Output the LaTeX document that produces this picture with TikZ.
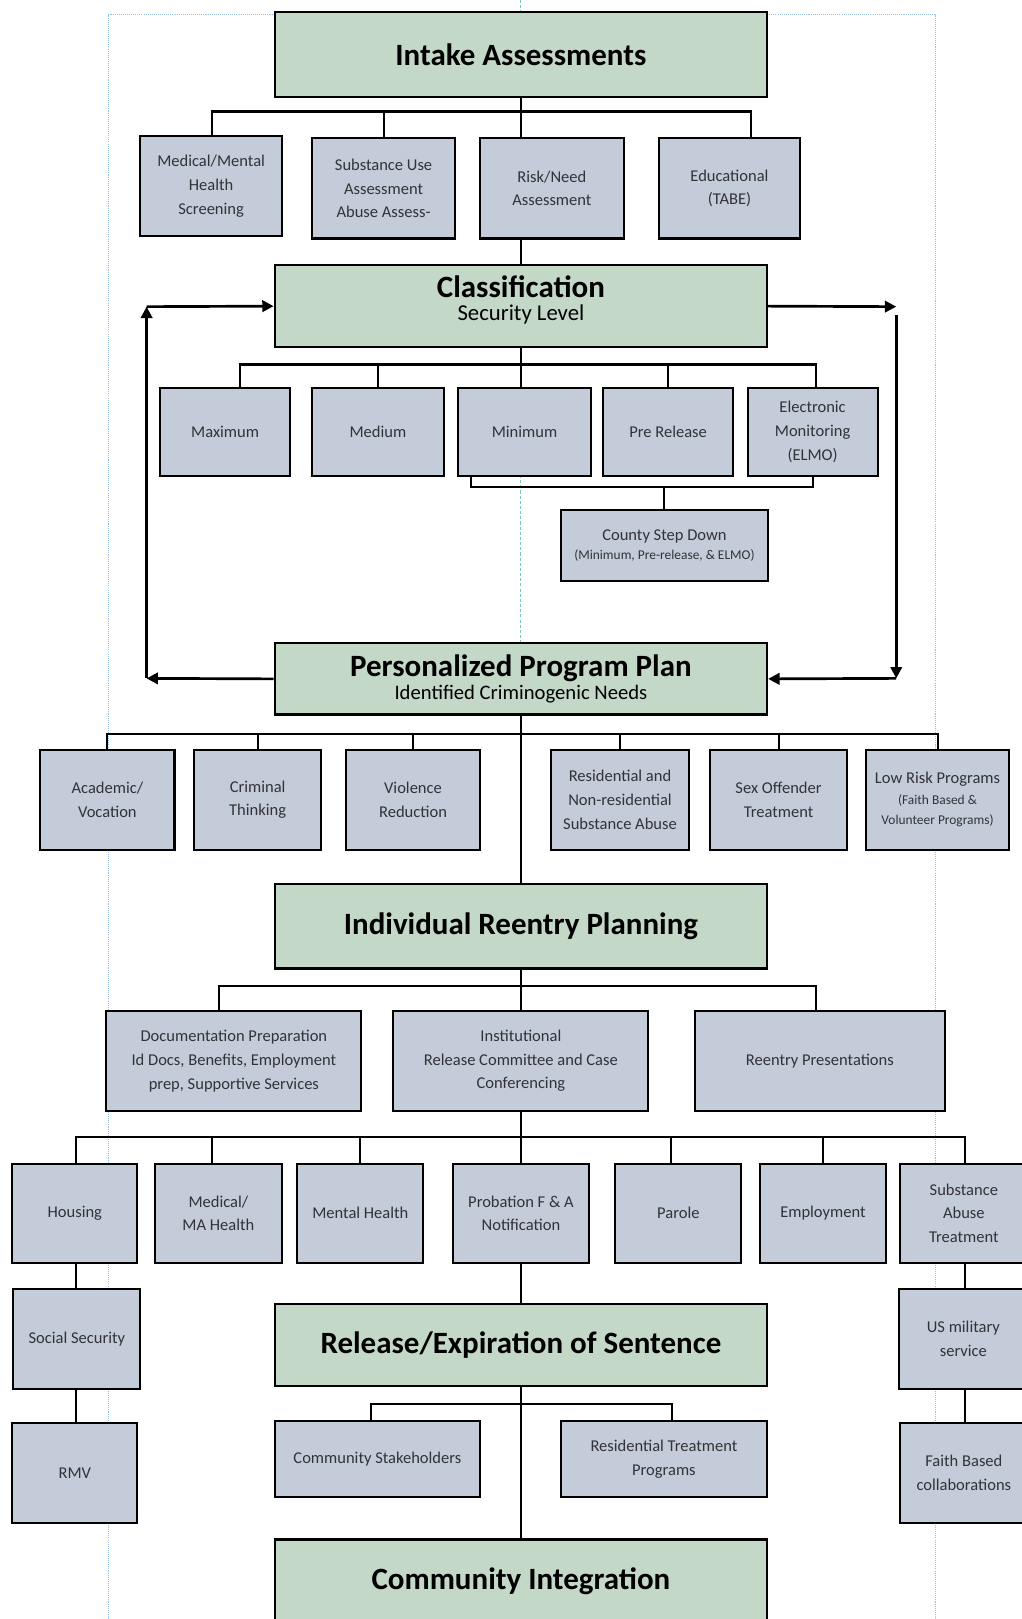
\documentclass[tikz,border=0pt]{standalone}
\usepackage{fontspec}
\setmainfont{Carlito}
\usetikzlibrary{arrows.meta,backgrounds}
\definecolor{gfill}{RGB}{196,216,200}
\definecolor{bfill}{RGB}{196,204,218}
\definecolor{guide}{RGB}{150,190,230}
\definecolor{guidec}{RGB}{120,200,190}
\definecolor{btext}{RGB}{50,50,55}
\begin{document}
\begin{tikzpicture}[x=1pt,y=-1pt,
  box/.style={draw=black, line width=2pt, inner sep=2pt, align=center},
  gbox/.style={box, fill=gfill, minimum width=477pt, font=\fontsize{30}{34}\selectfont\bfseries},
  gtext/.style={align=center, inner sep=0pt, font=\fontsize{30}{34}\selectfont\bfseries},
  bbox/.style={box, fill=bfill, font=\fontsize{16}{23}\selectfont, text=btext},
  conn/.style={line width=2pt},
  arr/.style={line width=2.6pt, -{Triangle[length=11pt,width=11pt]}}
]
\useasboundingbox (0,0) rectangle (989,1568);

% main green boxes
\node[gbox, minimum height=82pt] (intake) at (504.5,53) {Intake Assessments};
\node[gbox, minimum height=79pt] (class) at (504.5,296.5) {};
\node[gtext] (classt) at (504.5,290.5) {Classification\\[-11pt]{\fontsize{22}{24}\selectfont\mdseries Security Level}};
\node[gbox, minimum height=69pt] (ppp) at (504.5,657.5) {Personalized Program Plan\\[-12pt]{\fontsize{20}{22}\selectfont\mdseries Identified Criminogenic Needs}};
\node[gbox, minimum height=82pt] (irp) at (504.5,897) {Individual Reentry Planning};
\node[gbox, minimum height=79pt] (release) at (504.5,1302.5) {Release/Expiration of Sentence};
\node[gbox, minimum height=80pt] (commint) at (504.5,1531) {Community Integration};

% intake children
\node[bbox, minimum width=137pt, minimum height=97pt] (med) at (204.5,180.5) {Medical/Mental\\Health\\Screening};
\node[bbox, minimum width=139pt, minimum height=97pt] (subst) at (371.5,182.5) {Substance Use\\Assessment\\Abuse Assess-};
\node[bbox, minimum width=139pt, minimum height=97pt] (risk) at (534.5,182.5) {Risk/Need\\Assessment};
\node[bbox, minimum width=137pt, minimum height=97pt] (edu) at (706.5,182.5) {Educational\\(TABE)};

% classification children
\node[bbox, minimum width=126pt, minimum height=85pt] (max) at (218,418.5) {Maximum};
\node[bbox, minimum width=128pt, minimum height=85pt] (medium) at (366,418.5) {Medium};
\node[bbox, minimum width=128pt, minimum height=85pt] (minimum) at (508,418.5) {Minimum};
\node[bbox, minimum width=126pt, minimum height=85pt] (pre) at (647,418.5) {Pre Release};
\node[bbox, minimum width=126pt, minimum height=85pt] (elmo) at (787,418.5) {Electronic\\Monitoring\\(ELMO)};
\node[bbox, minimum width=201pt, minimum height=69pt] (county) at (643.5,528.5) {County Step Down\\[-4pt]{\fontsize{13}{18}\selectfont (Minimum, Pre-release, \& ELMO)}};

% PPP children
\node[bbox, minimum width=130pt, minimum height=97pt] (acad) at (104,774.5) {Academic/\\Vocation};
\node[bbox, minimum width=123pt, minimum height=97pt] (crim) at (249.5,774.5) {Criminal\\Thinking};
\node[bbox, minimum width=130pt, minimum height=97pt] (viol) at (400,774.5) {Violence\\Reduction};
\node[bbox, minimum width=133pt, minimum height=97pt] (resid) at (600.5,774.5) {Residential and\\Non-residential\\Substance Abuse};
\node[bbox, minimum width=132pt, minimum height=97pt] (sex) at (754,774.5) {Sex Offender\\Treatment};
\node[bbox, minimum width=138pt, minimum height=97pt] (low) at (908,774.5) {Low Risk Programs\\[-3pt]{\fontsize{13}{18}\selectfont (Faith Based \&}\\[-3pt]{\fontsize{13}{18}\selectfont Volunteer Programs)}};

% IRP children
\node[bbox, minimum width=247pt, minimum height=97pt] (doc) at (226.5,1027.5) {Documentation Preparation\\Id Docs, Benefits, Employment\\prep, Supportive Services};
\node[bbox, minimum width=247pt, minimum height=97pt] (inst) at (504.5,1027.5) {Institutional\\Release Committee and Case\\Conferencing};
\node[bbox, minimum width=242pt, minimum height=97pt] (reentry) at (794,1027.5) {Reentry Presentations};

% institutional children
\node[bbox, minimum width=121pt, minimum height=96pt] (housing) at (72.5,1175) {Housing};
\node[bbox, minimum width=123pt, minimum height=96pt] (medma) at (211.5,1175) {Medical/\\MA Health};
\node[bbox, minimum width=122pt, minimum height=96pt] (mental) at (349,1175) {Mental Health};
\node[bbox, minimum width=131pt, minimum height=96pt] (prob) at (504.5,1175) {Probation F \& A\\Notification};
\node[bbox, minimum width=122pt, minimum height=96pt] (parole) at (657,1175) {Parole};
\node[bbox, minimum width=122pt, minimum height=96pt] (emp) at (797,1175) {Employment};
\node[bbox, minimum width=123pt, minimum height=96pt] (subab) at (933.5,1175) {Substance\\Abuse\\Treatment};

\node[bbox, minimum width=123pt, minimum height=97pt] (socsec) at (74.5,1296.5) {Social Security};
\node[bbox, minimum width=121pt, minimum height=97pt] (rmv) at (72.5,1426.5) {RMV};
\node[bbox, minimum width=124pt, minimum height=97pt] (usmil) at (933,1296.5) {US military\\service};
\node[bbox, minimum width=123pt, minimum height=97pt] (faith) at (933.5,1426.5) {Faith Based\\collaborations};

% release children
\node[bbox, minimum width=199pt, minimum height=74pt] (cstake) at (365.5,1413) {Community Stakeholders};
\node[bbox, minimum width=200pt, minimum height=74pt] (rtreat) at (643,1413) {Residential Treatment\\Programs};

% helper coordinates
\coordinate (b1) at (205,108);
\coordinate (e1) at (727,108);
\coordinate (c1) at (232,353);
\coordinate (c5) at (790,353);
\coordinate (bl) at (456,472);
\coordinate (br) at (787,472);
\coordinate (p1) at (0,711);
\coordinate (i1) at (212,955);
\coordinate (i3) at (790,955);
\coordinate (h1) at (74,1101);
\coordinate (h2) at (205,1101);
\coordinate (h5) at (650,1101);
\coordinate (h7) at (935,1101);
\coordinate (s1) at (359,1360);
\coordinate (s2) at (651,1360);
\coordinate (lt) at (142,297);
\coordinate (lb) at (142,657);
\coordinate (rt) at (868,297);
\coordinate (rt2) at (868,305);
\coordinate (rb) at (868,657);

\begin{scope}[on background layer]
  % guide lines
  \draw[guide, densely dotted, line width=1pt] (105,1568) -- (105,14) -- (906,14) -- (906,1568);
  \draw[guidec, densely dashed, line width=0.9pt] (504.5,0) -- (504.5,1568);
  % intake
  \draw[conn] (intake.south) -- (class.north);
  \draw[conn] (b1 |- med.north) -- (b1) -- (e1) -- (e1 |- edu.north);
  \draw[conn] (subst.north) -- (subst.north |- b1);
  % classification
  \draw[conn] (class.south) -- (class.south |- minimum.north);
  \draw[conn] (c1 |- max.north) -- (c1) -- (c5) -- (c5 |- elmo.north);
  \draw[conn] (medium.north) -- (medium.north |- c1);
  \draw[conn] (pre.north) -- (pre.north |- c1);
  \draw[conn] (bl |- minimum.south) -- (bl) -- (br) -- (br |- elmo.south);
  \draw[conn] (county.north) -- (county.north |- bl);
  % PPP
  \draw[conn] (ppp.south) -- (irp.north);
  \draw[conn] (acad.north) -- (acad.north |- p1) -- (low.north |- p1) -- (low.north);
  \draw[conn] (crim.north) -- (crim.north |- p1);
  \draw[conn] (viol.north) -- (viol.north |- p1);
  \draw[conn] (resid.north) -- (resid.north |- p1);
  \draw[conn] (sex.north) -- (sex.north |- p1);
  % IRP
  \draw[conn] (irp.south) -- (inst.north);
  \draw[conn] (i1 |- doc.north) -- (i1) -- (i3) -- (i3 |- reentry.north);
  % institutional
  \draw[conn] (inst.south) -- (prob.north);
  \draw[conn] (h1 |- housing.north) -- (h1) -- (h7) -- (h7 |- subab.north);
  \draw[conn] (h2 |- medma.north) -- (h2);
  \draw[conn] (mental.north) -- (mental.north |- h1);
  \draw[conn] (h5 |- parole.north) -- (h5);
  \draw[conn] (emp.north) -- (emp.north |- h1);
  \draw[conn] (h1 |- housing.south) -- (h1 |- socsec.north);
  \draw[conn] (h1 |- socsec.south) -- (h1 |- rmv.north);
  \draw[conn] (h7 |- subab.south) -- (h7 |- usmil.north);
  \draw[conn] (h7 |- usmil.south) -- (h7 |- faith.north);
  % release
  \draw[conn] (prob.south) -- (release.north);
  \draw[conn] (release.south) -- (commint.north);
  \draw[conn] (s1 |- cstake.north) -- (s1) -- (s2) -- (s2 |- rtreat.north);
\end{scope}

% feedback arrows
\draw[arr] (ppp.west) -- (lb);
\draw[arr] (lb) -- (lt);
\draw[arr] (lt) -- (class.west);
\draw[arr] (class.east) -- (rt);
\draw[arr] (rt2) -- (rb);
\draw[arr] (rb) -- (ppp.east);
\end{tikzpicture}
\end{document}
